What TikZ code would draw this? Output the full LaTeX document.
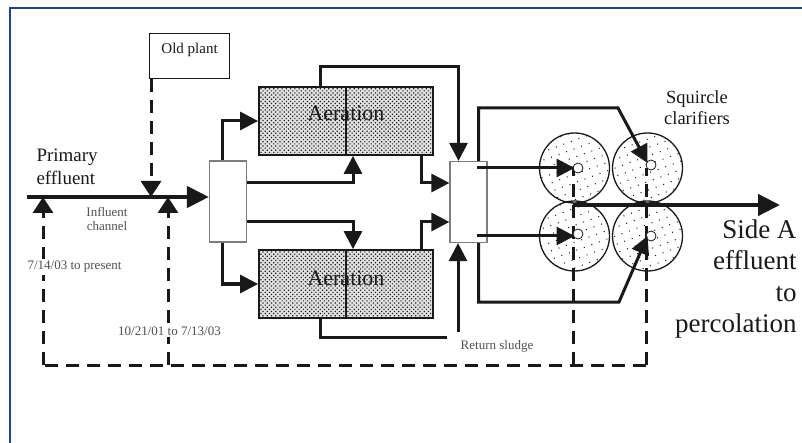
\documentclass[tikz,border=0pt]{standalone}
\usepackage{fontspec}
\setmainfont{Liberation Serif}
\usetikzlibrary{arrows.meta,positioning,calc,patterns.meta}
\definecolor{ink}{RGB}{25,25,25}
\definecolor{soft}{RGB}{125,125,125}
\definecolor{faded}{RGB}{80,80,80}
\definecolor{frameblue}{RGB}{35,65,145}
\definecolor{tankgray}{RGB}{225,225,225}
\tikzset{
  every picture/.style={color=ink, line width=1pt},
  frame/.style={draw=frameblue, line width=1.5pt},
  tankbox/.style={draw=ink, line width=1.8pt, preaction={fill=tankgray}, pattern={Dots[distance=3pt,radius=0.85pt,angle=45]}, pattern color=ink, minimum width=174pt, minimum height=68pt, inner sep=0pt},
  splitbox/.style={draw=soft, line width=1.2pt, fill=white, minimum width=37pt, minimum height=81pt, inner sep=0pt},
  plainbox/.style={draw=ink, line width=1.2pt, fill=white, minimum width=80pt, minimum height=45pt, inner sep=0pt},
  clar/.style={circle, draw=ink, line width=1.3pt, minimum size=70pt, inner sep=0pt, pattern={Dots[distance=8pt,radius=0.7pt,angle=20]}, pattern color=ink},
  hub/.style={circle, draw=ink, line width=0.8pt, fill=white, minimum size=10pt, inner sep=0pt},
  divider/.style={line width=1.8pt},
  pipe/.style={line width=3pt},
  flow/.style={pipe, -{Triangle[length=18pt,width=18pt]}},
  mainflow/.style={line width=4.5pt, -{Triangle[length=22pt,width=21pt]}},
  dashline/.style={line width=3pt, dash pattern=on 13pt off 8pt},
  dashflow/.style={dashline, -{Triangle[length=16pt,width=20pt]}},
  bigtxt/.style={font=\fontsize{27}{31.5}\selectfont, align=right, inner sep=0pt},
  midtxt/.style={font=\fontsize{19}{23}\selectfont, align=left, inner sep=0pt},
  clartxt/.style={font=\fontsize{18.5}{21}\selectfont, align=center, inner sep=0pt},
  tanktxt/.style={font=\fontsize{22}{26}\selectfont, inner sep=0pt},
  plaintxt/.style={font=\fontsize{15}{17}\selectfont, inner sep=0pt},
  smalltxt/.style={font=\fontsize{13}{14}\selectfont, text=faded, align=center, inner sep=0pt},
  datetxt/.style={smalltxt, fill=white, inner sep=2pt},
}

\begin{document}
\begin{tikzpicture}[x=1pt,y=-1pt]
  \useasboundingbox (0,0) rectangle (802,443);
  \draw[frame] (10,443) -- (10,8) -- (802,8);

  % process units
  \node[plainbox, anchor=north west] (oldplant) at (149,33) {};
  \node[plaintxt, anchor=north] (oldtxt) at ([yshift=-10pt]oldplant.north) {Old plant};
  \node[splitbox] (split1) at (228,201.5) {};
  \node[tankbox] (aer1) at (346,121) {};
  \node[tankbox] (aer2) at (346,284) {};
  \node[tanktxt] (aer1txt) at ([yshift=8pt]aer1.center) {Aeration};
  \node[tanktxt] (aer2txt) at ([yshift=6pt]aer2.center) {Aeration};
  \draw[divider] (aer1.north) -- (aer1.south);
  \draw[divider] (aer2.north) -- (aer2.south);
  \node[splitbox] (split2) at (468.5,202) {};

  % clarifiers
  \node[clar] (c1) at (574.5,168) {};
  \node[clar] (c2) at (647.5,168) {};
  \node[clar] (c3) at (574.5,236) {};
  \node[clar] (c4) at (647.5,236) {};

  % free ends
  \coordinate (inlet) at (27,197);
  \coordinate (oldtap) at ([xshift=2pt]oldplant.south west);
  \coordinate (tapA) at (43,365);
  \coordinate (tapB) at (168,365);
  \coordinate (wasA) at (573,365);
  \coordinate (wasB) at (646,365);
  \coordinate (effstart) at (573,205);
  \coordinate (outlet) at (780,205);
  \coordinate (bendtop) at (618,108);
  \coordinate (bendlow) at (619,302);
  \coordinate (rsin) at (458,332);
  \coordinate (sludgeend) at (447,337);

  % dashed lines
  \draw[dashflow] (oldtap) -- (oldtap |- inlet);
  \draw[dashline] (wasB) -- (tapA);
  \draw[dashflow] (tapA) -- (tapA |- inlet);
  \draw[dashflow] (tapB) -- (tapB |- inlet);
  \draw[dashline] (wasA) -- (wasA |- c1.center);
  \draw[dashline] (wasB) -- (wasB |- c2.center);

  % main flow
  \draw[mainflow] (inlet) -- (inlet -| split1.west);
  \draw[flow] ([xshift=-6pt]split1.north) |- (aer1.west);
  \draw[flow] ([yshift=19pt]split1.east) -| ([xshift=7pt]aer1.south);
  \draw[flow] ([yshift=-20pt]split1.east) -| ([xshift=7pt]aer2.north);
  \draw[flow] ([xshift=-6pt]split1.south) |- (aer2.west);
  \draw[flow] ([xshift=-26pt]aer1.north) -- ++(0,-20) -| ([xshift=-10pt]split2.north);
  \draw[flow] ([xshift=75pt]aer1.south) |- ([yshift=19pt]split2.west);
  \draw[flow] ([xshift=75pt]aer2.north) |- ([yshift=-20pt]split2.west);
  \draw[pipe] ([xshift=-26pt]aer2.south) |- (sludgeend);
  \draw[flow] (rsin) -- (rsin |- split2.south);
  \draw[mainflow] (effstart) -- (outlet);

  % clarifier feeds
  \node[hub] (h1) at ([xshift=3.5pt]c1.center) {};
  \node[hub] (h2) at ([xshift=3.5pt,yshift=3pt]c2.center) {};
  \node[hub] (h3) at ([xshift=3.5pt,yshift=2pt]c3.center) {};
  \node[hub] (h4) at ([xshift=3.5pt]c4.center) {};
  \draw[flow] ($(split2.east |- c1.center)+(-11,0)$) -- (c1.center);
  \draw[flow] ($(split2.east |- c3.center)+(-11,0)$) -- (c3.center);
  \draw[flow] ([xshift=10pt]split2.north) |- (bendtop) -- ([yshift=5pt]c2.center);
  \draw[flow] ([xshift=10pt]split2.south) |- (bendlow) -- (c4.center);

  % labels
  \node[midtxt, anchor=west] (primtxt) at (36,167) {Primary\\effluent};
  \node[smalltxt] (chantxt) at (107,219) {Influent\\channel};
  \node[datetxt] (newdate) at (74.5,267) {7/14/03 to present};
  \node[datetxt] (olddate) at (169.5,331) {10/21/01 to 7/13/03};
  \node[smalltxt] (rstxt) at (497,346) {Return sludge};
  \node[clartxt] (clartxt) at (697,108) {Squircle\\clarifiers};
  \node[bigtxt, anchor=east] (efftxt) at (797,279) {Side A\\effluent\\to\\percolation};
\end{tikzpicture}
\end{document}
